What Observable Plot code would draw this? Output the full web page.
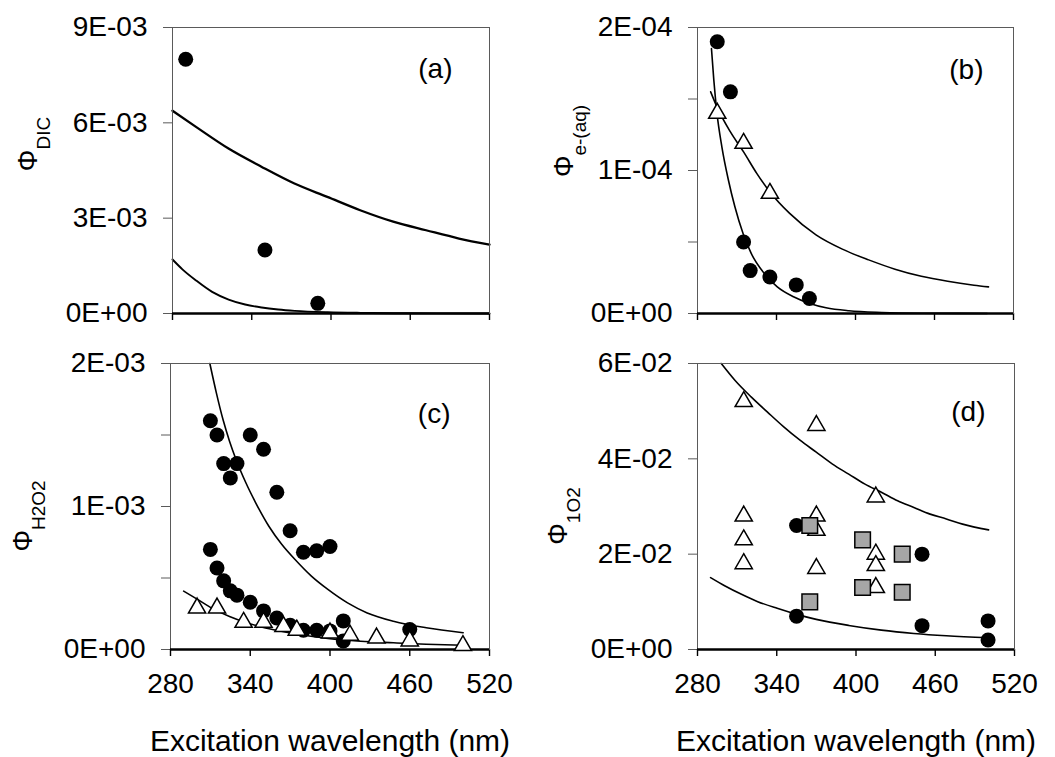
<!DOCTYPE html>
<html>
<head>
<meta charset="utf-8">
<script src="https://cdn.jsdelivr.net/npm/d3@7"></script>
<script src="https://cdn.jsdelivr.net/npm/@observablehq/plot@0.6"></script>
<style>
  html, body { margin: 0; padding: 0; background: #fff; }
  #wrap { position: relative; width: 1055px; height: 757px; background: #fff; overflow: hidden; }
  #wrap svg { position: absolute; overflow: visible; }
</style>
</head>
<body>
<div id="wrap"></div>
<script>
// ---------- shared axis data ----------
const xDomain = [280, 520];
const xTicks = [280, 340, 400, 460, 520];
const xTitle = "Excitation wavelength (nm)";

// ---------- panel (a): Φ DIC ----------
const aYTicks = [0, 0.003, 0.006, 0.009];
const aYLabels = ["0E+00", "3E-03", "6E-03", "9E-03"];
const aCircleNm = [290, 350, 390];
const aCircleVal = [8.0e-3, 2.0e-3, 3.2e-4];
const aFit1Nm = [280, 297.5, 322.4, 347.3, 372.3, 397.2, 422.1, 447.1, 472, 496.9, 520];
const aFit1Val = [6.38e-3, 5.88e-3, 5.19e-3, 4.62e-3, 4.09e-3, 3.67e-3, 3.25e-3, 2.89e-3, 2.62e-3, 2.36e-3, 2.17e-3];
const aFit2Nm = [280, 287.5, 297.5, 310, 322.5, 335, 347.5, 360, 372.5, 397.5, 422.5, 450, 480, 520];
const aFit2Val = [1.70e-3, 1.39e-3, 1.05e-3, 0.68e-3, 0.44e-3, 0.283e-3, 0.189e-3, 0.126e-3, 0.084e-3, 0.040e-3, 0.020e-3, 0.009e-3, 0.004e-3, 0.001e-3];

// ---------- panel (b): Φ e-(aq) ----------
const bYTicks = [0, 5e-5, 1e-4, 1.5e-4, 2e-4];
const bYLabels = ["0E+00", "", "1E-04", "", "2E-04"];
const bCircleNm = [295, 305, 315, 320, 335, 355, 365];
const bCircleVal = [1.90e-4, 1.55e-4, 5.0e-5, 3.0e-5, 2.55e-5, 2.0e-5, 1.05e-5];
const bTriNm = [295, 315, 335];
const bTriVal = [1.40e-4, 1.19e-4, 8.4e-5];
const bFit1Nm = [290.6, 292.4, 294.8, 298.5, 303.5, 308.4, 314.6, 320.8, 330.7, 340.6, 352.9, 365.3, 377.6, 395, 420, 450, 500];
const bFit1Val = [1.853e-4, 1.632e-4, 1.399e-4, 1.166e-4, 0.932e-4, 0.746e-4, 0.559e-4, 0.420e-4, 0.280e-4, 0.186e-4, 0.117e-4, 0.070e-4, 0.040e-4, 0.019e-4, 0.007e-4, 0.002e-4, 0.0005e-4];
const bFit2Nm = [290, 295, 305, 315, 325, 335, 350, 370, 390, 410, 430, 450, 470, 490, 501];
const bFit2Val = [1.55e-4, 1.44e-4, 1.27e-4, 1.13e-4, 0.98e-4, 0.85e-4, 0.70e-4, 0.55e-4, 0.45e-4, 0.375e-4, 0.31e-4, 0.26e-4, 0.225e-4, 0.198e-4, 0.186e-4];

// ---------- panel (c): Φ H2O2 ----------
const cYTicks = [0, 5e-4, 1e-3, 1.5e-3, 2e-3];
const cYLabels = ["0E+00", "", "1E-03", "", "2E-03"];
const cCircleNm = [310, 315, 320, 325, 330, 340, 350, 360, 370, 380, 390, 400,
                   310, 315, 320, 325, 330, 340, 350, 360, 370, 380, 390, 400, 410, 410, 460];
const cCircleVal = [1.60e-3, 1.50e-3, 1.30e-3, 1.20e-3, 1.30e-3, 1.50e-3, 1.40e-3, 1.10e-3, 0.83e-3, 0.68e-3, 0.69e-3, 0.72e-3,
                    0.70e-3, 0.57e-3, 0.48e-3, 0.41e-3, 0.38e-3, 0.33e-3, 0.27e-3, 0.22e-3, 0.17e-3, 0.135e-3, 0.135e-3, 0.13e-3, 0.20e-3, 0.06e-3, 0.14e-3];
const cTriNm = [300, 315, 335, 350, 365, 375, 400, 415, 435, 460, 500];
const cTriVal = [0.29e-3, 0.29e-3, 0.19e-3, 0.19e-3, 0.16e-3, 0.135e-3, 0.115e-3, 0.10e-3, 0.08e-3, 0.06e-3, 0.027e-3];
const cFit1Nm = [309.6, 314.5, 319.5, 324.4, 329.3, 336.7, 344.1, 354.0, 363.8, 373.7, 386.0, 398.4, 413.2, 428.0, 447.7, 472.4, 500.2];
const cFit1Val = [2.000e-3, 1.795e-3, 1.608e-3, 1.457e-3, 1.329e-3, 1.166e-3, 1.026e-3, 0.862e-3, 0.734e-3, 0.629e-3, 0.513e-3, 0.420e-3, 0.326e-3, 0.256e-3, 0.198e-3, 0.152e-3, 0.117e-3];
const cFit2Nm = [289.9, 299.7, 312.1, 324.4, 336.7, 349.1, 361.4, 373.7, 398.4, 423.0, 447.7, 472.4, 500.2];
const cFit2Val = [0.408e-3, 0.354e-3, 0.284e-3, 0.231e-3, 0.189e-3, 0.156e-3, 0.131e-3, 0.110e-3, 0.077e-3, 0.058e-3, 0.047e-3, 0.037e-3, 0.030e-3];

// ---------- panel (d): Φ 1O2 ----------
const dYTicks = [0, 0.02, 0.04, 0.06];
const dYLabels = ["0E+00", "2E-02", "4E-02", "6E-02"];
const dTriNm = [315, 315, 315, 315, 370, 370, 370, 370, 415, 415, 415, 415];
const dTriVal = [5.2e-2, 2.8e-2, 2.3e-2, 1.8e-2, 4.7e-2, 2.8e-2, 2.5e-2, 1.7e-2, 3.2e-2, 2.0e-2, 1.76e-2, 1.3e-2];
const dCircleNm = [355, 355, 450, 450, 500, 500];
const dCircleVal = [2.6e-2, 0.7e-2, 2.0e-2, 0.5e-2, 0.6e-2, 0.2e-2];
const dSquareNm = [365, 365, 405, 405, 435, 435];
const dSquareVal = [2.6e-2, 1.0e-2, 2.3e-2, 1.3e-2, 2.0e-2, 1.2e-2];
const dFit1Nm = [298.0, 308.3, 320.6, 333.0, 345.3, 357.6, 369.9, 382.2, 394.5, 406.8, 419.2, 431.5, 443.8, 456.1, 468.4, 480.7, 500.4];
const dFit1Val = [6.00e-2, 5.65e-2, 5.30e-2, 4.98e-2, 4.67e-2, 4.39e-2, 4.14e-2, 3.89e-2, 3.68e-2, 3.47e-2, 3.30e-2, 3.12e-2, 2.98e-2, 2.84e-2, 2.74e-2, 2.63e-2, 2.51e-2];
const dFit2Nm = [289.9, 300.9, 313.3, 325.6, 340.3, 355.1, 369.9, 394.5, 419.2, 443.8, 468.4, 500.4];
const dFit2Val = [1.509e-2, 1.333e-2, 1.158e-2, 1.004e-2, 0.863e-2, 0.737e-2, 0.632e-2, 0.505e-2, 0.407e-2, 0.337e-2, 0.288e-2, 0.246e-2];

// ---------- rendering ----------
const FONT = "'Liberation Sans', Arial, Helvetica, sans-serif";
const wrap = document.getElementById("wrap");

function panel(cfg) {
  const labelMap = new Map(cfg.yTicks.map((t, i) => [t, cfg.yLabels[i]]));
  const marks = [];
  for (const f of cfg.fits) {
    marks.push(Plot.line(f.nm, {x: f.nm, y: f.val, stroke: "black", strokeWidth: f.w || 1.6, curve: "monotone-x"}));
  }
  marks.push(Plot.frame({stroke: "#5a5a5a", strokeWidth: 1}));
  marks.push(Plot.ruleY([0], {stroke: "black", strokeWidth: 2.5}));
  if (cfg.circles) marks.push(Plot.dot(cfg.circles.nm, {x: cfg.circles.nm, y: cfg.circles.val, r: 7.5, fill: "black", stroke: "none"}));
  if (cfg.tris) marks.push(Plot.dot(cfg.tris.nm, {x: cfg.tris.nm, y: cfg.tris.val, symbol: "triangle", r: 6.4, fill: "white", stroke: "black", strokeWidth: 1.5}));
  if (cfg.squares) marks.push(Plot.dot(cfg.squares.nm, {x: cfg.squares.nm, y: cfg.squares.val, symbol: "square", r: 8.8, fill: "#a6a6a6", stroke: "black", strokeWidth: 1.5}));
  marks.push(Plot.text([cfg.letter], {frameAnchor: "top-right", dx: cfg.letterDx, dy: cfg.letterDy, textAnchor: "end", lineAnchor: "bottom", fontSize: 28, fill: "black"}));
  if (cfg.bottomRow) {
    marks.push(Plot.text([xTitle], {frameAnchor: "bottom", dy: 101, lineAnchor: "bottom", textAnchor: "middle", fontSize: 30, fill: "black"}));
  }
  const svg = Plot.plot({
    width: cfg.w, height: cfg.h,
    marginLeft: cfg.ml, marginRight: cfg.mr, marginTop: cfg.mt, marginBottom: cfg.mb,
    style: {fontFamily: FONT, fontSize: "28px", color: "black", background: "transparent", overflow: "visible"},
    x: {domain: xDomain, ticks: xTicks, tickSize: 7, tickPadding: 17, label: null,
        tickFormat: cfg.bottomRow ? (d => String(d)) : (() => "")},
    y: {domain: cfg.yDomain, ticks: cfg.yTicks, tickSize: 9, tickPadding: 16, label: null,
        tickFormat: d => labelMap.get(d) ?? ""},
    marks
  });
  svg.style.left = cfg.left + "px";
  svg.style.top = cfg.top + "px";
  wrap.appendChild(svg);
  const s = d3.select(svg);
  // y tick marks in grey like the original, x tick marks in black
  s.selectAll('g[aria-label="y-axis tick"] path, g[aria-label="y-axis"] line').attr("stroke", "#5a5a5a").attr("stroke-width", 1);
  s.selectAll('g[aria-label="x-axis tick"] path, g[aria-label="x-axis"] line').attr("stroke", "black").attr("stroke-width", 1.4);
  // y-axis title with subscript (real text)
  const t = s.append("text")
    .attr("transform", `translate(${cfg.ylx},${cfg.yly}) rotate(-90)`)
    .attr("text-anchor", "middle")
    .attr("font-family", FONT)
    .attr("fill", "black");
  t.append("tspan").attr("font-size", 27).text("Φ");
  t.append("tspan").attr("font-size", 19).attr("dy", 13).text(cfg.sub);
}

panel({left: 0, top: 0, w: 527, h: 345, ml: 172, mr: 38, mt: 27, mb: 32,
  yDomain: [0, 0.009], yTicks: aYTicks, yLabels: aYLabels,
  fits: [{nm: aFit1Nm, val: aFit1Val, w: 2.3}, {nm: aFit2Nm, val: aFit2Val, w: 1.9}],
  circles: {nm: aCircleNm, val: aCircleVal},
  letter: "(a)", letterDx: -37, letterDy: 50, sub: "DIC", ylx: 37, yly: 144, bottomRow: false});

panel({left: 527, top: 0, w: 528, h: 345, ml: 170, mr: 42, mt: 27, mb: 32,
  yDomain: [0, 2e-4], yTicks: bYTicks, yLabels: bYLabels,
  fits: [{nm: bFit1Nm, val: bFit1Val}, {nm: bFit2Nm, val: bFit2Val}],
  circles: {nm: bCircleNm, val: bCircleVal},
  tris: {nm: bTriNm, val: bTriVal},
  letter: "(b)", letterDx: -30, letterDy: 51, sub: "e-(aq)", ylx: 46, yly: 141, bottomRow: false});

panel({left: 0, top: 345, w: 527, h: 412, ml: 170, mr: 38, mt: 18, mb: 108,
  yDomain: [0, 2e-3], yTicks: cYTicks, yLabels: cYLabels,
  fits: [{nm: cFit1Nm, val: cFit1Val}, {nm: cFit2Nm, val: cFit2Val}],
  circles: {nm: cCircleNm, val: cCircleVal},
  tris: {nm: cTriNm, val: cTriVal},
  letter: "(c)", letterDx: -39, letterDy: 59, sub: "H2O2", ylx: 32, yly: 171, bottomRow: true});

panel({left: 527, top: 345, w: 528, h: 412, ml: 170, mr: 41, mt: 18, mb: 108,
  yDomain: [0, 0.06], yTicks: dYTicks, yLabels: dYLabels,
  fits: [{nm: dFit1Nm, val: dFit1Val}, {nm: dFit2Nm, val: dFit2Val}],
  circles: {nm: dCircleNm, val: dCircleVal},
  tris: {nm: dTriNm, val: dTriVal},
  squares: {nm: dSquareNm, val: dSquareVal},
  letter: "(d)", letterDx: -29, letterDy: 57, sub: "1O2", ylx: 40, yly: 171, bottomRow: true});
</script>
</body>
</html>
